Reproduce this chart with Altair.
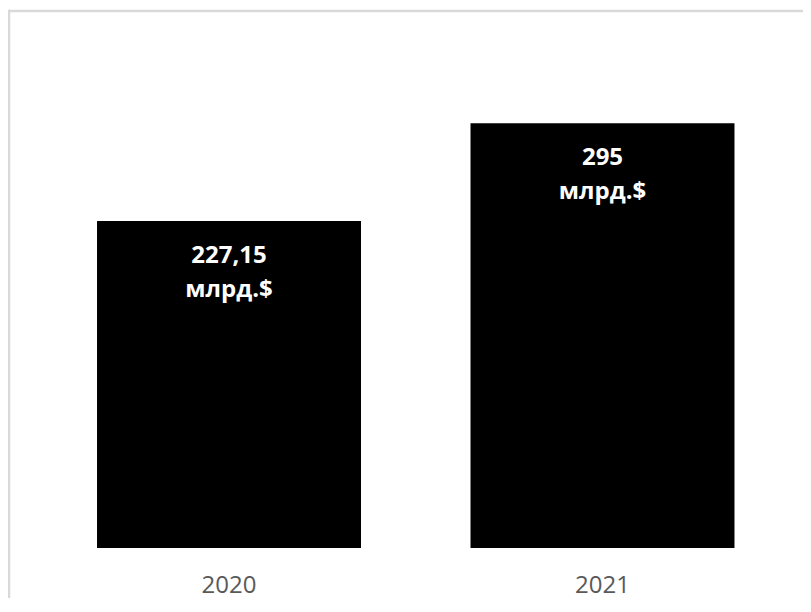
import altair as alt
import pandas as pd

years = ["2020", "2021"]
values = [227.15, 295]
value_labels = ["227,15", "295"]
unit_label = "млрд.$"

df = pd.DataFrame({"year": years, "value": values, "vlabel": value_labels})

FONT = "Open Sans"

x_enc = alt.X(
    "year:N",
    sort=years,
    title=None,
    scale=alt.Scale(paddingInner=0.2932, paddingOuter=0.2109, align=0.5651),
    axis=alt.Axis(
        labelAngle=0,
        labelFont=FONT,
        labelFontSize=24,
        labelColor="#595959",
        labelPadding=25,
        ticks=False,
        tickSize=0,
        domain=False,
        grid=False,
    ),
)
y_scale = alt.Scale(domain=[0, 375], nice=False, zero=True)

base = alt.Chart(df)

bars = base.mark_bar(color="#000000").encode(
    x=x_enc,
    y=alt.Y("value:Q", scale=y_scale, axis=None),
)

labels = (
    base.transform_calculate(txt="datum.vlabel + '\\n' + '" + unit_label + "'")
    .mark_text(
        font=FONT,
        fontSize=24,
        fontWeight="bold",
        color="#ffffff",
        baseline="alphabetic",
        align="center",
        dy=42,
        lineBreak="\n",
        lineHeight=34,
    )
    .encode(
        x=x_enc,
        y=alt.Y("value:Q", scale=y_scale, axis=None),
        text="txt:N",
    )
)

frame_src = alt.Data(values=[{"a": 1}])
frame_left = (
    alt.Chart(frame_src)
    .mark_rule(color="#d9d9d9", strokeWidth=2.5)
    .encode(x=alt.value(1), y=alt.value(1.75), y2=alt.value(1200))
)
frame_top = (
    alt.Chart(frame_src)
    .mark_rule(color="#d9d9d9", strokeWidth=2.5)
    .encode(x=alt.value(-0.25), x2=alt.value(1200), y=alt.value(3))
)

chart = (
    alt.layer(frame_left, frame_top, bars, labels)
    .properties(
        width=795,
        height=540,
        background="#ffffff",
        autosize=alt.AutoSizeParams(type="none"),
        padding={"left": 0, "top": 0, "right": 0, "bottom": 50},
    )
    .configure_view(strokeWidth=0, stroke="transparent")
)

chart.save("out.html", embed_options={"renderer": "svg", "actions": False})
